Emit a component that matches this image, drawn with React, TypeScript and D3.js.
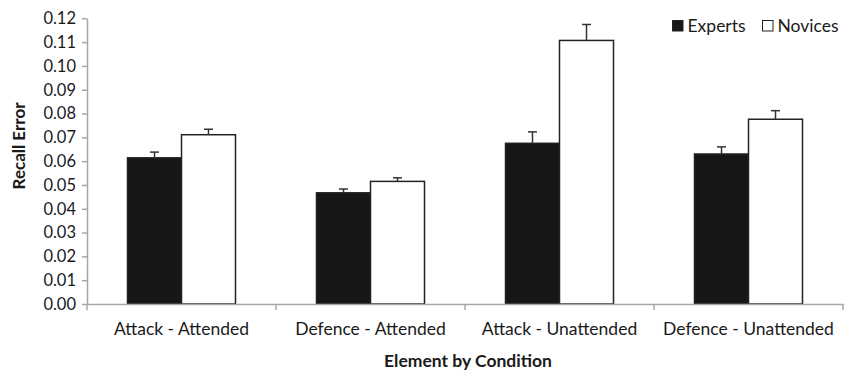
import React, { useRef, useEffect } from 'react';
import * as d3 from 'd3';

// Chart values
const categories = ['Attack - Attended', 'Defence - Attended', 'Attack - Unattended', 'Defence - Unattended'];
const seriesNames = ['Experts', 'Novices'];
const expertValues = [0.0614, 0.0467, 0.0675, 0.063];
const expertErrors = [0.0024, 0.0016, 0.0048, 0.003];
const noviceValues = [0.0711, 0.0515, 0.1107, 0.0776];
const noviceErrors = [0.0023, 0.0015, 0.0067, 0.0036];
const yTicks = [0, 0.01, 0.02, 0.03, 0.04, 0.05, 0.06, 0.07, 0.08, 0.09, 0.10, 0.11, 0.12];

const FONT = 'Lato, "Open Sans", sans-serif';

const App = () => {
  const ref = useRef<SVGSVGElement>(null);

  useEffect(() => {
    const svg = d3.select(ref.current);
    svg.selectAll('*').remove();

    const width = 851;
    const height = 377;
    const left = 87;
    const right = 843;
    const top = 18.3;
    const bottom = 304;

    svg.attr('width', width).attr('height', height);

    const x0 = d3.scaleBand().domain(categories).range([left, right]).padding(0);
    const x1 = d3.scaleBand().domain(seriesNames)
      .range([0, x0.bandwidth()]).paddingOuter(0.75).paddingInner(0);
    const y = d3.scaleLinear().domain([0, 0.12]).range([bottom, top]);

    const axisColor = '#a6a6a6';
    const textColor = '#1a1a1a';

    // y axis
    const yAxis = svg.append('g').attr('transform', `translate(${left},0)`)
      .call(d3.axisLeft(y).tickValues(yTicks).tickSize(5).tickSizeOuter(0).tickFormat(d3.format('.2f')));
    yAxis.select('.domain').attr('stroke', axisColor).attr('stroke-width', 1.5);
    yAxis.selectAll('.tick line').attr('stroke', axisColor).attr('stroke-width', 1.5);
    yAxis.selectAll('.tick text')
      .attr('font-family', FONT).attr('font-size', 16.5).attr('fill', textColor).attr('x', -11);

    const rows = categories.map((c, i) => ({
      cat: c,
      vals: [
        { s: 'Experts', v: expertValues[i], e: expertErrors[i] },
        { s: 'Novices', v: noviceValues[i], e: noviceErrors[i] },
      ],
    }));

    const groups = svg.append('g').selectAll('g').data(rows).join('g')
      .attr('transform', d => `translate(${x0(d.cat)},0)`);

    groups.selectAll('rect').data(d => d.vals).join('rect')
      .attr('x', d => x1(d.s)!)
      .attr('y', d => y(d.v))
      .attr('width', x1.bandwidth())
      .attr('height', d => y(0) - y(d.v))
      .attr('fill', d => (d.s === 'Experts' ? '#161616' : '#ffffff'))
      .attr('stroke', '#222')
      .attr('stroke-width', 1.5);

    // error bars (upper only)
    const err = groups.selectAll('g.err').data(d => d.vals).join('g').attr('class', 'err');
    err.append('line')
      .attr('x1', d => x1(d.s)! + x1.bandwidth() / 2)
      .attr('x2', d => x1(d.s)! + x1.bandwidth() / 2)
      .attr('y1', d => y(d.v))
      .attr('y2', d => y(d.v + d.e))
      .attr('stroke', '#333').attr('stroke-width', 1.5);
    err.append('line')
      .attr('x1', d => x1(d.s)! + x1.bandwidth() / 2 - 4.5)
      .attr('x2', d => x1(d.s)! + x1.bandwidth() / 2 + 4.5)
      .attr('y1', d => y(d.v + d.e))
      .attr('y2', d => y(d.v + d.e))
      .attr('stroke', '#333').attr('stroke-width', 1.5);

    // x axis
    const xAxis = svg.append('g').attr('transform', `translate(0,${bottom})`)
      .call(d3.axisBottom(x0).tickSize(0).tickSizeOuter(0));
    xAxis.select('.domain').attr('stroke', axisColor).attr('stroke-width', 1.5);
    xAxis.selectAll('.tick text')
      .attr('font-family', FONT).attr('font-size', 17.5).attr('fill', textColor).attr('dy', 0).attr('y', 31);
    // boundary ticks between categories
    xAxis.selectAll('line.bnd').data(categories.map(c => x0(c)!).concat([right])).join('line')
      .attr('class', 'bnd')
      .attr('x1', d => d).attr('x2', d => d)
      .attr('y1', 0).attr('y2', 6)
      .attr('stroke', axisColor).attr('stroke-width', 1.5);

    // axis titles
    svg.append('text')
      .attr('x', 468).attr('y', 367)
      .attr('text-anchor', 'middle')
      .attr('font-family', FONT).attr('font-size', 17.5).attr('font-weight', 'bold').attr('fill', textColor)
      .text('Element by Condition');
    svg.append('text')
      .attr('transform', `translate(25,146) rotate(-90)`)
      .attr('text-anchor', 'middle')
      .attr('font-family', FONT).attr('font-size', 17).attr('font-weight', 'bold').attr('fill', textColor)
      .text('Recall Error');

    // legend
    const legendX = [672, 762];
    const legend = svg.append('g').selectAll('g').data(seriesNames).join('g')
      .attr('transform', (d, i) => `translate(${legendX[i]},20)`);
    legend.append('rect')
      .attr('x', 0.5).attr('y', 0.5).attr('width', 10.5).attr('height', 10.5)
      .attr('fill', (d, i) => (i === 0 ? '#161616' : '#fff'))
      .attr('stroke', '#222').attr('stroke-width', 1);
    legend.append('text')
      .attr('x', 15.5).attr('y', 11.5)
      .attr('font-family', FONT).attr('font-size', 17.5).attr('fill', textColor)
      .text(d => d);
  }, []);

  return <svg ref={ref} style={{ position: 'absolute', left: 0, top: 0 }}></svg>;
};

export default App;
